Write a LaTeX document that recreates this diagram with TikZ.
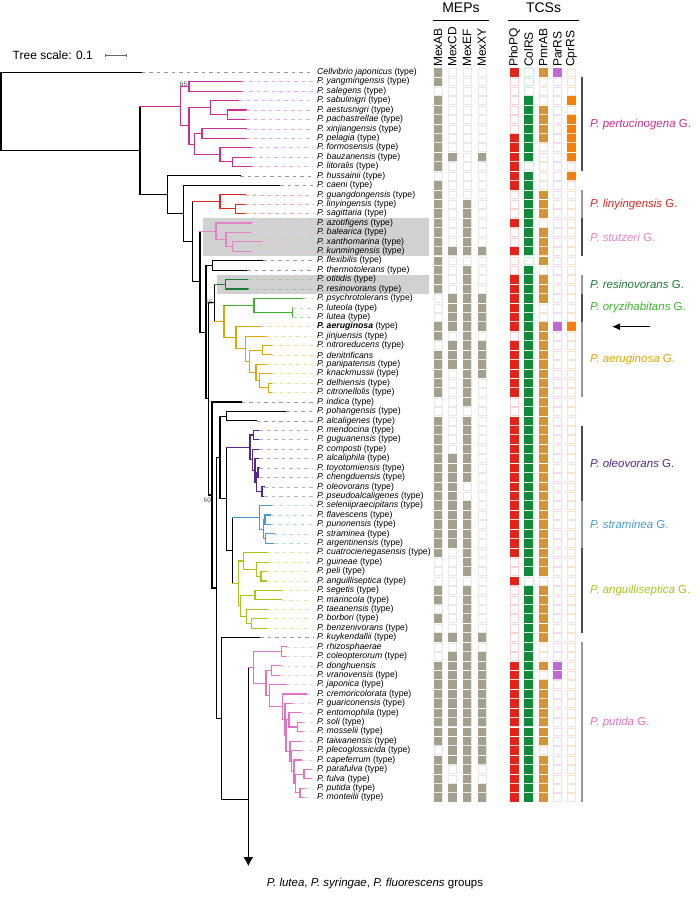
\documentclass[tikz,border=0pt]{standalone}
\usepackage{fontspec}
\setmainfont{Liberation Sans}
\usetikzlibrary{arrows.meta}
\begin{document}
\pgfmathdeclarefunction{ry}{1}{\pgfmathparse{72.3+9.42*(#1-1)}}
\definecolor{mep}{HTML}{A59F8D}
\definecolor{mepE}{HTML}{E8E8E8}
\definecolor{cPho}{HTML}{E2231A}\definecolor{cPhoE}{HTML}{FAD2D0}
\definecolor{cCol}{HTML}{118A3C}\definecolor{cColE}{HTML}{D3EBDD}
\definecolor{cPmr}{HTML}{D4943A}\definecolor{cPmrE}{HTML}{F6E4CC}
\definecolor{cPar}{HTML}{C068D4}\definecolor{cParE}{HTML}{EEDDF4}
\definecolor{cCpr}{HTML}{F58009}\definecolor{cCprE}{HTML}{FCE2CC}
\definecolor{gPert}{HTML}{CC2E96}
\definecolor{gLin}{HTML}{E3261F}
\definecolor{gStu}{HTML}{E384C8}
\definecolor{gRes}{HTML}{1F7A38}
\definecolor{gOry}{HTML}{3CB52A}
\definecolor{gAer}{HTML}{E1A600}
\definecolor{gOle}{HTML}{57288A}
\definecolor{gStr}{HTML}{4A9BCB}
\definecolor{gAng}{HTML}{A7C818}
\definecolor{gPut}{HTML}{E472C4}
\newcommand{\V}[4]{\draw[br,#1] (#2,{ry(#3)}) -- (#2,{ry(#4)});}
\newcommand{\HH}[4]{\draw[br,#1] (#2,{ry(#4)}) -- (#3,{ry(#4)});}
\newcommand{\TT}[4]{\draw[br,#1] (#2,{ry(#4)}) -- (#3,{ry(#4)}); \draw[lead,#1!40] (#3,{ry(#4)}) -- (313,{ry(#4)});}
\begin{tikzpicture}[x=1pt,y=-1pt,
  taxon/.style={anchor=west,inner sep=0pt,font=\fontsize{8.7}{9}\selectfont\itshape},
  colhead/.style={rotate=90,anchor=west,inner sep=0pt,font=\fontsize{12}{12}\selectfont},
  grouphead/.style={inner sep=0pt,font=\fontsize{14}{14}\selectfont},
  glabel/.style={anchor=west,inner sep=0pt,font=\fontsize{11.5}{12}\selectfont},
  boot/.style={inner sep=0pt,font=\fontsize{6.5}{6.5}\selectfont,text=black!70},
  br/.style={line width=1.1pt,line cap=rect},
  lead/.style={line width=0.5pt,dash pattern=on 3.5pt off 4pt}]
\useasboundingbox (0,0) rectangle (700,897);
\fill[white] (0,0) rectangle (700,897);
% highlight bands
\fill[black!18] (203.3,{ry(17)-4.7}) rectangle (429,{ry(20)+4.7});
\fill[black!18] (217.3,{ry(23)-4.7}) rectangle (429,{ry(24)+4.7});
% tree scale
\node[anchor=west,inner sep=0pt,font=\fontsize{12}{12}\selectfont] (ts) at (12.5,55.4) {Tree scale: 0.1};
\draw[black!60,line width=0.6pt] (105,55.4) -- (126.7,55.4) (105,53.6) -- (105,57.2) (126.7,53.6) -- (126.7,57.2);
% ---------- tree: backbone ----------
\V{black}{1}{1}{9.3}
\TT{black}{1}{141.7}{1}
\HH{black}{1}{140}{9.3}
\V{black}{140}{4.59}{14.0}
\HH{black}{140}{167.7}{14.0}
\V{black}{167.7}{12}{15.99}
\TT{black}{167.7}{240}{12}
\HH{black}{167.7}{183.3}{15.99}
\V{black}{183.3}{13}{18.99}
\TT{black}{183.3}{280}{13}
\HH{black}{183.3}{192.3}{18.99}
\V{black}{192.3}{14.75}{23.23}
\HH{black}{192.3}{200}{23.23}
\V{black}{200}{17.875}{28.59}
\HH{black}{200}{206}{28.59}
\V{black}{206}{21.5}{35.67}
\HH{black}{206}{212.7}{21.5}
\V{black}{212.7}{21}{22}
\TT{black}{212.7}{263.3}{21}
\TT{black}{212.7}{247.3}{22}
\HH{black}{206}{208.3}{35.67}
\V{black}{208.3}{25.48}{45.87}
\HH{black}{208.3}{214.3}{25.48}
\V{black}{214.3}{23.5}{27.46}
\HH{black}{208.3}{212}{45.87}
\V{black}{212}{36}{55.74}
\TT{black}{212}{241.7}{36}
\HH{black}{212}{216.7}{55.74}
\V{black}{216.7}{41.89}{69.59}
\HH{black}{216.7}{220}{41.89}
\V{black}{220}{37.5}{46.28}
\HH{black}{220}{226.7}{37.5}
\V{black}{226.7}{37}{38}
\TT{black}{226.7}{286}{37}
\TT{black}{226.7}{256.7}{38}
\HH{black}{220}{226.7}{46.28}
\V{black}{226.7}{40.81}{51.75}
\HH{black}{226.7}{232.7}{51.75}
\V{black}{232.7}{48.25}{55.25}
\HH{black}{216.7}{221.7}{69.59}
\V{black}{221.7}{61}{78.18}
\TT{black}{221.7}{260}{61}
\HH{black}{221.7}{248.3}{78.18}
\coordinate (grpTop) at (248.3,{ry(64.17)});
\coordinate (grpEnd) at (248.3,866);
\draw[line width=1.1pt,-{Latex[length=9pt,width=10pt]}] (grpTop) -- (grpEnd);
% ---------- pertucinogena ----------
\HH{gPert}{140}{180.7}{4.59}
\V{gPert}{180.7}{2.5}{6.69}
\HH{gPert}{180.7}{189}{2.5}
\V{gPert}{189}{2}{3}
\TT{gPert}{189}{241.7}{2}
\TT{gPert}{189}{241.7}{3}
\HH{gPert}{180.7}{189}{6.69}
\V{gPert}{189}{4.75}{8.625}
\HH{gPert}{189}{210.7}{4.75}
\V{gPert}{210.7}{4}{5.5}
\TT{gPert}{210.7}{239.3}{4}
\HH{gPert}{210.7}{227.7}{5.5}
\V{gPert}{227.7}{5}{6}
\TT{gPert}{227.7}{246}{5}
\TT{gPert}{227.7}{246}{6}
\HH{gPert}{189}{194.3}{8.625}
\V{gPert}{194.3}{7.5}{9.75}
\HH{gPert}{194.3}{202}{7.5}
\V{gPert}{202}{7}{8}
\TT{gPert}{202}{246}{7}
\TT{gPert}{202}{246}{8}
\HH{gPert}{194.3}{220}{9.75}
\V{gPert}{220}{9}{10.5}
\TT{gPert}{220}{251.7}{9}
\HH{gPert}{220}{232.7}{10.5}
\V{gPert}{232.7}{10}{11}
\TT{gPert}{232.7}{251.7}{10}
\TT{gPert}{232.7}{251.7}{11}
\node[boot] (b65) at (183.5,84) {65};
% ---------- linyingensis ----------
\HH{gLin}{192.3}{220}{14.75}
\V{gLin}{220}{14}{15.5}
\TT{gLin}{220}{245}{14}
\HH{gLin}{220}{235.3}{15.5}
\V{gLin}{235.3}{15}{16}
\TT{gLin}{235.3}{245}{15}
\TT{gLin}{235.3}{245}{16}
% ---------- stutzeri ----------
\HH{gStu}{200}{216}{17.875}
\V{gStu}{216}{17}{18.75}
\TT{gStu}{216}{252.3}{17}
\HH{gStu}{216}{226}{18.75}
\V{gStu}{226}{18}{19.5}
\TT{gStu}{226}{252.3}{18}
\HH{gStu}{226}{232.7}{19.5}
\V{gStu}{232.7}{19}{20}
\TT{gStu}{232.7}{262.3}{19}
\TT{gStu}{232.7}{252.3}{20}
% ---------- resinovorans ----------
\HH{gRes}{214.3}{225.3}{23.5}
\V{gRes}{225.3}{23}{24}
\TT{gRes}{225.3}{248.3}{23}
\TT{gRes}{225.3}{248.3}{24}
\node[boot] (b55) at (209,301.8) {55};
% ---------- aeruginosa + oryzihabitans ----------
\HH{gAer}{214.3}{224}{27.46}
\V{gAer}{224}{25.75}{29.17}
\HH{gOry}{224}{254}{25.75}
\V{gOry}{254}{25}{26.5}
\TT{gOry}{254}{303.3}{25}
\HH{gOry}{254}{292.3}{26.5}
\V{gOry}{292.3}{26}{27}
\draw[lead,gOry!40] (292.3,{ry(26)}) -- (313,{ry(26)});
\draw[lead,gOry!40] (292.3,{ry(27)}) -- (313,{ry(27)});
\HH{gAer}{224}{236}{29.17}
\V{gAer}{236}{28}{30.34}
\TT{gAer}{236}{260.7}{28}
\HH{gAer}{236}{245.7}{30.34}
\V{gAer}{245.7}{29}{31.69}
\TT{gAer}{245.7}{266}{29}
\HH{gAer}{245.7}{249.3}{31.69}
\V{gAer}{249.3}{30.5}{32.875}
\HH{gAer}{249.3}{262.7}{30.5}
\V{gAer}{262.7}{30}{31}
\TT{gAer}{262.7}{271.7}{30}
\TT{gAer}{262.7}{271.7}{31}
\HH{gAer}{249.3}{256}{32.875}
\V{gAer}{256}{32}{33.75}
\TT{gAer}{256}{266}{32}
\HH{gAer}{256}{259.3}{33.75}
\V{gAer}{259.3}{33}{34.5}
\TT{gAer}{259.3}{272}{33}
\HH{gAer}{259.3}{268.3}{34.5}
\V{gAer}{268.3}{34}{35}
\TT{gAer}{268.3}{272}{34}
\TT{gAer}{268.3}{272}{35}
\node[boot] (b60) at (207.3,500) {60};
% ---------- oleovorans ----------
\HH{gOle}{226.7}{250}{40.81}
\V{gOle}{250}{39.5}{42.125}
\HH{gOle}{250}{253.3}{39.5}
\V{gOle}{253.3}{39}{40}
\TT{gOle}{253.3}{259.3}{39}
\TT{gOle}{253.3}{259.3}{40}
\HH{gOle}{250}{252.7}{42.125}
\V{gOle}{252.7}{41}{43.25}
\TT{gOle}{252.7}{259.3}{41}
\HH{gOle}{252.7}{255}{43.25}
\V{gOle}{255}{42}{44.5}
\TT{gOle}{255}{259.3}{42}
\HH{gOle}{255}{256.7}{44.5}
\V{gOle}{256.7}{43.5}{45.5}
\HH{gOle}{256.7}{258}{43.5}
\V{gOle}{258}{43}{44}
\TT{gOle}{258}{259.3}{43}
\TT{gOle}{258}{259.3}{44}
\HH{gOle}{256.7}{262}{45.5}
\V{gOle}{262}{45}{46}
\TT{gOle}{262}{264}{45}
\TT{gOle}{262}{264}{46}
% ---------- straminea ----------
\HH{gStr}{232.7}{259.3}{48.25}
\V{gStr}{259.3}{47}{49.5}
\TT{gStr}{259.3}{271.7}{47}
\HH{gStr}{259.3}{263.3}{49.5}
\V{gStr}{263.3}{48.5}{50.5}
\HH{gStr}{263.3}{265}{48.5}
\V{gStr}{265}{48}{49}
\TT{gStr}{265}{270.7}{48}
\TT{gStr}{265}{270.7}{49}
\HH{gStr}{263.3}{265.7}{50.5}
\V{gStr}{265.7}{50}{51}
\TT{gStr}{265.7}{274}{50}
\TT{gStr}{265.7}{274}{51}
% ---------- anguilliseptica ----------
\HH{gAng}{232.7}{238.3}{55.25}
\V{gAng}{238.3}{52.875}{57.625}
\HH{gAng}{238.3}{243.3}{52.875}
\V{gAng}{243.3}{52}{53.75}
\TT{gAng}{243.3}{267.7}{52}
\HH{gAng}{243.3}{256.7}{53.75}
\V{gAng}{256.7}{53}{54.5}
\TT{gAng}{256.7}{269.3}{53}
\HH{gAng}{256.7}{261}{54.5}
\V{gAng}{261}{54}{55}
\TT{gAng}{261}{266.7}{54}
\TT{gAng}{261}{266.7}{55}
\HH{gAng}{238.3}{240.7}{57.625}
\V{gAng}{240.7}{56.5}{58.75}
\HH{gAng}{240.7}{255}{56.5}
\V{gAng}{255}{56}{57}
\TT{gAng}{255}{281.7}{56}
\TT{gAng}{255}{281.7}{57}
\HH{gAng}{240.7}{246.7}{58.75}
\V{gAng}{246.7}{58}{59.5}
\TT{gAng}{246.7}{267.7}{58}
\HH{gAng}{246.7}{251.7}{59.5}
\V{gAng}{251.7}{59}{60}
\TT{gAng}{251.7}{266.7}{59}
\TT{gAng}{251.7}{266.7}{60}
% ---------- putida ----------
\HH{gPut}{248.3}{253.3}{64.17}
\V{gPut}{253.3}{62.5}{65.84}
\HH{gPut}{253.3}{281.7}{62.5}
\V{gPut}{281.7}{62}{63}
\TT{gPut}{281.7}{286}{62}
\TT{gPut}{281.7}{286}{63}
\HH{gPut}{253.3}{266}{65.84}
\V{gPut}{266}{64.5}{67.18}
\HH{gPut}{266}{271.7}{64.5}
\V{gPut}{271.7}{64}{65}
\TT{gPut}{271.7}{280}{64}
\TT{gPut}{271.7}{280}{65}
\HH{gPut}{266}{269.3}{67.18}
\V{gPut}{269.3}{66}{68.35}
\TT{gPut}{269.3}{287.3}{66}
\HH{gPut}{269.3}{282.3}{68.35}
\V{gPut}{282.3}{67}{69.7}
\TT{gPut}{282.3}{306.7}{67}
\HH{gPut}{282.3}{285}{69.7}
\V{gPut}{285}{68}{71.4}
\TT{gPut}{285}{292.7}{68}
\HH{gPut}{285}{286}{71.4}
\V{gPut}{286}{69.75}{73.06}
\HH{gPut}{286}{289}{69.75}
\V{gPut}{289}{69}{70.5}
\TT{gPut}{289}{301.7}{69}
\HH{gPut}{289}{297.7}{70.5}
\V{gPut}{297.7}{70}{71}
\TT{gPut}{297.7}{302.7}{70}
\TT{gPut}{297.7}{302.7}{71}
\HH{gPut}{286}{290}{73.06}
\V{gPut}{290}{72}{74.125}
\TT{gPut}{290}{301.7}{72}
\HH{gPut}{290}{291.7}{74.125}
\V{gPut}{291.7}{73}{75.25}
\TT{gPut}{291.7}{301.7}{73}
\HH{gPut}{291.7}{294}{75.25}
\V{gPut}{294}{74}{76.5}
\TT{gPut}{294}{301.7}{74}
\HH{gPut}{294}{295.7}{76.5}
\V{gPut}{295.7}{75.5}{77.5}
\HH{gPut}{295.7}{304}{75.5}
\V{gPut}{304}{75}{76}
\TT{gPut}{304}{311.7}{75}
\TT{gPut}{304}{311.7}{76}
\HH{gPut}{295.7}{300}{77.5}
\V{gPut}{300}{77}{78}
\TT{gPut}{300}{305}{77}
\TT{gPut}{300}{305}{78}
% taxa
\foreach \k/\t in {1/{Cellvibrio japonicus},2/{P. yangmingensis},3/{P. salegens},4/{P. sabulinigri},5/{P. aestusnigri},6/{P. pachastrellae},7/{P. xinjiangensis},8/{P. pelagia},9/{P. formosensis},10/{P. bauzanensis},11/{P. litoralis},12/{P. hussainii},13/{P. caeni},14/{P. guangdongensis},15/{P. linyingensis},16/{P. sagittaria},17/{P. azotifigens},18/{P. balearica},19/{P. xanthomarina},20/{P. kunmingensis},21/{P. flexibilis},22/{P. thermotolerans},23/{P. otitidis},24/{P. resinovorans},25/{P. psychrotolerans},26/{P. luteola},27/{P. lutea},29/{P. jinjuensis},30/{P. nitroreducens},32/{P. panipatensis},33/{P. knackmussii},34/{P. delhiensis},35/{P. citronellolis},36/{P. indica},37/{P. pohangensis},38/{P. alcaligenes},39/{P. mendocina},40/{P. guguanensis},41/{P. composti},42/{P. alcaliphila},43/{P. toyotomiensis},44/{P. chengduensis},45/{P. oleovorans},46/{P. pseudoalcaligenes},47/{P. seleniipraecipitans},48/{P. flavescens},49/{P. punonensis},50/{P. straminea},51/{P. argentinensis},52/{P. cuatrocienegasensis},53/{P. guineae},54/{P. peli},55/{P. anguilliseptica},56/{P. segetis},57/{P. marincola},58/{P. taeanensis},59/{P. borbori},60/{P. benzenivorans},61/{P. kuykendallii},63/{P. coleopterorum},65/{P. vranovensis},66/{P. japonica},67/{P. cremoricolorata},68/{P. guariconensis},69/{P. entomophila},70/{P. soli},71/{P. mosselii},72/{P. taiwanensis},73/{P. plecoglossicida},74/{P. capeferrum},75/{P. parafulva},76/{P. fulva},77/{P. putida},78/{P. monteilii}}
  {\node[taxon] (t\k) at (317,{ry(\k)}) {\t\upshape{} (type)};}
\foreach \k/\t in {31/{P. denitrificans},62/{P. rhizosphaerae},64/{P. donghuensis}}
  {\node[taxon] (t\k) at (317,{ry(\k)}) {\t};}
\node[taxon,font=\fontsize{8.7}{9}\selectfont\bfseries\itshape] (t28) at (317,{ry(28)}) {P. aeruginosa\upshape\mdseries{} (type)};
% heatmap empty cells
\def\cw{8.6}\def\ch{8.4}
\foreach \cx/\ce in {438/mepE,452.3/mepE,467/mepE,481.8/mepE,514.3/cPhoE,528.7/cColE,543.2/cPmrE,557.5/cParE,571.5/cCprE}
  \foreach \k in {1,...,78} {\draw[\ce,line width=0.5pt] ({\cx-\cw/2+0.25},{ry(\k)-\ch/2+0.25}) rectangle ({\cx+\cw/2-0.25},{ry(\k)+\ch/2-0.25});}
\newcommand{\hcol}[3]{\foreach \k in {#3} {\fill[#2] ({#1-\cw/2},{ry(\k)-\ch/2}) rectangle ({#1+\cw/2},{ry(\k)+\ch/2});}}
\hcol{438}{mep}{1,2,4,5,...,11,13,14,...,24,28,29,31,32,...,35,38,39,...,52,56,57,59,61,64,65,...,72,74,75,...,78}
\hcol{452.3}{mep}{10,20,25,26,27,28,30,31,32,42,43,...,51,61,63,64,...,74,77,78}
\hcol{467}{mep}{15,16,...,20,22,23,...,36,38,39,...,44,47,48,...,54,56,57,...,78}
\hcol{481.8}{mep}{10,20,25,26,27,28,30,31,32,33,61,63,64,...,74,77,78}
\hcol{514.3}{cPho}{1,8,9,...,13,17,20,23,24,...,28,30,31,...,35,38,39,...,52,55,64,65,...,78}
\hcol{528.7}{cCol}{4,5,...,10,12,13,...,20,22,23,...,54,56,57,...,78}
\hcol{543.2}{cPmr}{1,5,6,7,8,14,15,16,18,19,20,21,23,24,25,28,29,...,54,56,57,...,61,64,66,67,...,72,74,75,...,78}
\hcol{557.5}{cPar}{1,28,64,65}
\hcol{571.5}{cCpr}{4,6,7,8,9,10,12,28}
% column headers
\foreach \cx/\t in {438/MexAB,452.3/MexCD,467/MexEF,481.8/MexXY,514.3/PhoPQ,528.7/ColRS,543.2/PmrAB,557.5/ParRS,571.5/CprRS}
  {\node[colhead] (h\t) at (\cx,67) {\t};}
\node[grouphead] (meps) at (461,7.5) {MEPs};
\node[grouphead] (tcss) at (543.5,7.5) {TCSs};
\draw[line width=0.8pt] (433,20.7) -- (489,20.7);
\draw[line width=0.8pt] (508,20.7) -- (579,20.7);
% group bars and labels
\foreach \a/\b/\c in {2/11/black!70,14/16/black!40,17/20/black!70,23/24/black!40,25/27/black!70,28/35/black!40,39/46/black!70,47/51/black!40,52/60/black!70,62/78/black!40}
  {\fill[\c] (581.3,{ry(\a)-4.6}) rectangle (583.3,{ry(\b)+4.6});}
\node[glabel,text=gPert] (g1) at (590,{ry(6.5)}) {\textit{P. pertucinogena} G.};
\node[glabel,text=gLin] (g2) at (590,{ry(15)}) {\textit{P. linyingensis} G.};
\node[glabel,text=gStu] (g3) at (590,{ry(18.5)}) {\textit{P. stutzeri} G.};
\node[glabel,text=gRes] (g4) at (590,{ry(23.5)}) {\textit{P. resinovorans} G.};
\node[glabel,text=gOry] (g5) at (590,{ry(26)}) {\textit{P. oryzihabitans} G.};
\node[glabel,text=gAer] (g6) at (590,{ry(31.5)}) {\textit{P. aeruginosa} G.};
\node[glabel,text=gOle] (g7) at (590,{ry(42.5)}) {\textit{P. oleovorans} G.};
\node[glabel,text=gStr] (g8) at (590,{ry(49)}) {\textit{P. straminea} G.};
\node[glabel,text=gAng] (g9) at (590,{ry(56)}) {\textit{P. anguilliseptica} G.};
\node[glabel,text=gPut] (g10) at (590,{ry(70)}) {\textit{P. putida} G.};
% arrow to aeruginosa
\coordinate (arA) at (650,{ry(28)});
\coordinate (arB) at (612,{ry(28)});
\draw[line width=1pt,-{Latex[length=8pt,width=7pt]}] (arA) -- (arB);
% bottom
\node[inner sep=0pt,font=\fontsize{11.5}{12}\selectfont\itshape] (bot) at (375,884) {P. lutea\upshape, \itshape P. syringae\upshape, \itshape P. fluorescens\upshape{} groups};
\end{tikzpicture}
\end{document}
